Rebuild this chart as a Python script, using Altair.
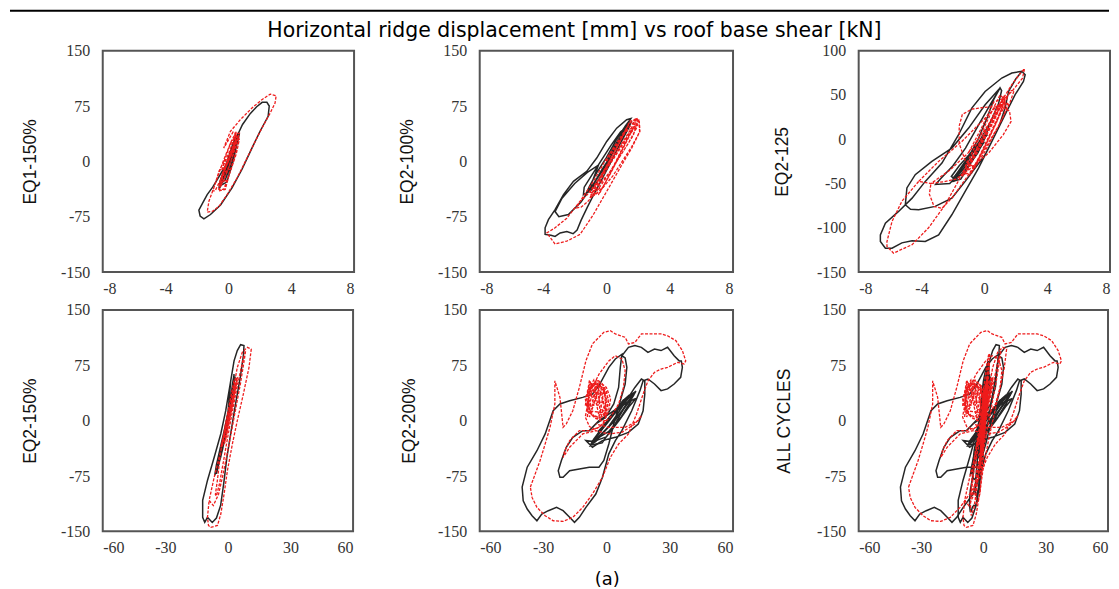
import altair as alt
import pandas as pd

TITLE = "Horizontal ridge displacement [mm] vs roof base shear [kN]"
CAPTION = "(a)"
PANEL_NAMES = ["EQ1-150%", "EQ2-100%", "EQ2-125", "EQ2-150%", "EQ2-200%", "ALL CYCLES"]
X_TICKS_SMALL = [-8, -4, 0, 4, 8]
X_TICKS_LARGE = [-60, -30, 0, 30, 60]
Y_TICKS = [-150, -75, 0, 75, 150]
Y_TICKS_125 = [-150, -100, -50, 0, 50, 100]

# ---- traced hysteresis paths: (displacement mm, base shear kN) ----
EQ1_150_TEST = [(0,0),(0.25,14),(0.5,27),(0.65,36),(0.6,30),(0.35,14),(0.05,-5),(-0.3,-22),(-0.5,-32),(-0.55,-36),(-0.4,-28),(-0.1,-10),(0.2,8),(0.5,25),(0.62,33),(0.5,22),(0.2,4),(-0.1,-15),(-0.4,-28),(-0.5,-32),(-0.35,-22),(-0.05,-3),(0.3,16),(0.55,30),(0.7,38),(0.65,33),(0.4,15),(0.1,-3),(-0.2,-18),(-0.45,-30),(-0.6,-36),(-0.5,-25),(-0.2,-8),(0.1,10),(0.5,32),(0.9,50),(1.4,65),(1.8,74),(2.15,80),(2.45,80),(2.6,75),(2.53,61),(2.3,52),(2.0,40),(1.5,18),(0.86,-11),(0.23,-36),(-0.5,-59),(-1.14,-72),(-1.56,-78),(-1.8,-74),(-1.88,-66),(-1.6,-55),(-1.35,-45),(-1.0,-35),(-0.72,-25),(-0.3,-10),(0,0)]
EQ1_150_TEST_CORE = [(-0.45,-32),(-0.1,-28),(0.3,0),(0.6,30),(0.65,36),(0.4,30),(0,5),(-0.35,-20),(-0.5,-30),(-0.2,-25),(0.2,-3),(0.5,20),(0.6,33),(0.3,25),(-0.05,0),(-0.4,-25)]
EQ1_150_MODEL = [(0,0),(0.3,15),(0.55,28),(0.68,36),(0.6,30),(0.3,10),(0,-10),(-0.35,-28),(-0.6,-38),(-0.55,-30),(-0.25,-12),(0.1,10),(0.45,28),(0.55,24),(0.25,6),(-0.1,-14),(-0.45,-32),(-0.55,-28),(-0.2,-8),(0.2,14),(0.45,30),(0.5,40),(0.2,28),(-0.3,2),(-0.75,-25),(-1.0,-40),(-0.85,-40),(-0.5,-25),(-0.1,-5),(0.3,20),(0.45,38),(0.3,40),(-0.1,25),(-0.3,18),(0.13,40.7),(0.76,56.5),(1.5,72.3),(2.13,83.6),(2.66,91),(3.04,89),(2.97,79),(2.66,65.5),(2.13,45),(1.6,22.6),(1.08,0),(0.55,-22.6),(-0.08,-45),(-0.6,-61),(-1.03,-67.8),(-1.35,-68.7),(-1.24,-54),(-0.93,-36),(-0.6,-13.5),(-0.3,0)]
EQ1_150_MODEL_CORE = [(-0.6,-40),(-0.2,-38),(0.15,-10),(-0.25,-15),(-0.55,-35),(-0.35,-20),(0.05,5),(0.45,25),(0.7,38),(0.45,38),(0.1,15),(-0.3,-5),(-0.45,-28),(-0.05,-25),(0.3,0),(0.6,20),(0.65,30),(0.3,20),(-0.1,0),(-0.5,-25),(-0.6,-38),(-0.3,-38),(0.1,-15),(0.5,10),(0.7,30),(0.5,35),(0.15,25),(-0.2,5),(-0.4,-10),(-0.1,-5),(0.3,15),(0.55,36)]

EQ2_100_TEST = [(0,0),(0.5,20),(1.0,38),(1.4,52),(1.5,57),(1.3,48),(0.8,28),(0.2,5),(-0.5,-20),(-1.0,-38),(-1.3,-45),(-1.1,-35),(-0.6,-15),(0,5),(0.6,28),(1.2,48),(1.45,55),(1.35,45),(0.9,25),(0.3,0),(-0.4,-22),(-1.0,-40),(-1.45,-45),(-1.4,-35),(-0.9,-18),(-0.3,2),(0.3,22),(0.9,40),(1.2,45),(0.9,30),(0.3,8),(-0.3,-12),(-0.8,-30),(-1.2,-42),(-0.9,-28),(-0.5,-5),(-1.2,-15),(-2.0,-30),(-2.8,-50),(-3.24,-68),(-3.0,-75),(-2.4,-72),(-1.6,-55),(-0.8,-30),(0,-5),(0.7,25),(1.3,50),(1.55,58),(1.28,56.5),(0.65,45),(0.02,27),(-0.61,4.5),(-1.24,-13.5),(-2.08,-27),(-2.71,-45),(-3.24,-65.5),(-3.66,-79),(-3.87,-90),(-3.87,-99),(-3.5,-100),(-3.24,-101.7),(-2.92,-97),(-2.5,-95),(-2.1,-98),(-1.85,-93),(-1.6,-80),(-1.2,-62),(-0.8,-45),(-0.3,-25),(0.3,0),(0.9,25),(1.4,45),(1.6,55)]
EQ2_100_MODEL = [(0,0),(0.6,20),(1.2,40),(1.8,55),(2.0,58),(1.9,45),(1.4,25),(0.8,5),(0.2,-15),(-0.4,-30),(-0.8,-42),(-0.6,-35),(-0.1,-15),(0.5,5),(1.1,25),(1.7,45),(2.05,55),(2.1,40),(1.6,20),(1.0,0),(0.4,-20),(-0.2,-35),(-0.7,-45),(-1.0,-48),(-0.8,-38),(-0.3,-20),(0.3,0),(0.9,20),(1.5,40),(1.9,50),(1.7,35),(1.1,15),(0.5,-5),(-0.1,-25),(-0.6,-40),(-1.2,-55),(-1.6,-62),(-1.87,-63),(-1.7,-55),(-1.2,-45),(-0.5,-25),(0.2,-2),(0.9,22),(1.5,42),(1.91,58.7),(1.49,52),(0.86,31.6),(0.02,4.5),(-0.82,-27),(-1.66,-54),(-2.5,-77),(-3.24,-90),(-3.76,-97),(-3.24,-112),(-2.5,-108),(-1.66,-99),(-0.82,-72),(0.02,-40.7),(0.86,-9),(1.6,18),(2.12,40.7),(2.08,54),(1.91,58.7)]
EQ2_100_MODEL_CORE = [(-1.0,-45),(-0.4,-42),(0.4,-10),(1.2,25),(1.9,55),(1.5,55),(0.7,20),(-0.2,-15),(-0.8,-40),(-0.2,-35),(0.6,0),(1.4,35),(2.0,50),(1.2,40),(0.3,5),(-0.5,-25),(-1.0,-42),(-0.5,-45),(0.3,-15),(1.0,15),(1.7,45)]

EQ2_125_TEST = [(0,0),(0.3,15),(0.1,5),(-0.4,-15),(-1.0,-30),(-1.6,-42),(-2.0,-48),(-1.8,-40),(-1.2,-28),(-0.6,-12),(-0.1,2),(0.2,8),(-0.2,-8),(-0.8,-22),(-1.4,-35),(-1.9,-45),(-2.1,-42),(-1.6,-30),(-1.0,-18),(-0.4,-5),(0.4,20),(0.9,40),(1.1,55),(1.0,58),(0.6,45),(0.2,25),(-0.4,0),(-1.0,-20),(-1.6,-38),(-2.2,-50),(-3.1,-51),(-2.8,-45),(-2.0,-30),(-1.2,-10),(-0.4,15),(0.4,40),(1.0,57.8),(0.05,39),(-1.0,12.6),(-2.07,-10),(-3.34,-25),(-4.4,-40),(-4.93,-55),(-5.03,-74),(-4.7,-79),(-4.18,-79.5),(-3.13,-75.8),(-2.07,-66.5),(-1.22,-47.6),(0.05,-17.5),(0.9,12.6),(1.32,35.2),(1.54,54),(2.0,68),(2.39,76.7),(2.6,72.9),(2.49,65.3),(1.96,50.3),(1.32,27.7),(0.48,-2.5),(-0.37,-32.6),(-1.22,-59),(-2.07,-85.3),(-2.91,-108),(-3.76,-115.5),(-4.6,-114.7),(-5.25,-117),(-5.88,-123),(-6.3,-123),(-6.62,-115.5),(-6.62,-108),(-6.3,-94.7),(-5.46,-81.5),(-4.6,-66.5),(-3.76,-47.6),(-2.7,-26.9),(-1.64,5.1),(-0.8,35.2),(0.05,54),(1.11,69.1),(1.75,74.8),(2.39,76.7)]
EQ2_125_TEST_CORE = [(-2.1,-48),(-1.5,-45),(-0.8,-25),(-0.1,0),(0.2,5),(-0.4,-5),(-1.2,-28),(-1.9,-42),(-1.3,-40),(-0.6,-18),(0,-3),(-0.7,-12),(-1.5,-32),(-2.0,-45)]
EQ2_125_MODEL = [(0,0),(0.5,20),(1.0,40),(1.3,50),(1.1,40),(0.6,20),(0,0),(-0.6,-20),(-1.2,-38),(-1.4,-42),(-1.0,-30),(-0.4,-10),(0.2,10),(0.8,30),(1.2,45),(1.0,35),(0.4,15),(-0.2,-5),(-0.8,-25),(-1.3,-40),(-1.0,-32),(-0.5,-15),(0.1,5),(0.7,25),(1.2,42),(1.5,40),(1.2,25),(0.6,5),(0,-15),(-0.6,-32),(-1.2,-25),(-1.6,-5),(-1.6,15),(-1.4,28),(-0.8,34),(0,36),(1.0,37),(1.6,32),(1.7,20),(1.2,5),(0.3,-15),(-0.8,-32),(-1.8,-45),(-2.6,-48),(-3.4,-50),(-3.5,-62),(-3.2,-76),(-2.7,-78),(-2.0,-65),(-1.0,-40),(0,-12),(0.9,15),(1.6,40),(1.9,55),(1.7,55),(1.0,35),(0,10),(-1.0,-15),(-2.2,-35),(-3.0,-45),(-3.4,-50),(-4.18,-47.6),(-5.25,-70),(-5.88,-93),(-6.2,-115.5),(-6.2,-121),(-5.78,-128.6),(-4.6,-119),(-3.55,-100),(-2.49,-74),(-1.43,-40),(-0.37,-6),(0.69,31.5),(1.75,61.6),(2.39,76.7),(2.56,79.7),(2.43,69),(1.75,54),(0.69,35.2),(-0.37,16.4),(-1.43,-2.5),(-2.91,-25),(-4.18,-47.6)]
EQ2_125_MODEL_CORE = [(-1.5,-40),(-0.8,-38),(0,-10),(0.8,20),(1.3,45),(1.0,50),(0.3,25),(-0.5,-5),(-1.2,-30),(-0.6,-30),(0.2,-2),(1.0,28),(1.4,40),(0.8,35),(0,5),(-0.8,-22),(-1.4,-38),(-0.9,-40),(-0.2,-15),(0.6,15),(1.2,38),(1.5,48),(0.6,42),(-0.2,12),(-1.0,-15)]

EQ2_150_TEST = [(0,0),(1,25),(2.5,55),(3,63),(2.3,45),(0.5,10),(-1.5,-25),(-3.5,-50),(-5.5,-68),(-6.3,-74),(-5.5,-60),(-3.5,-35),(-1.5,-10),(0.5,18),(2,40),(1.2,25),(-0.5,-5),(-2.5,-30),(-4.5,-55),(-5.8,-70),(-5,-55),(-3,-30),(-1,-5),(1,20),(2.5,45),(3.5,60),(3,50),(1.5,25),(-0.5,-8),(-2.5,-38),(-4.5,-60),(-5.5,-72),(-4.5,-55),(-2,-20),(0,10),(1.35,54),(2.95,81),(4.5,95),(6.1,103),(7.7,101.7),(7.5,90),(6,60),(3.5,20),(1.5,-15),(-0.5,-50),(-2,-85),(-3.5,-115),(-5.5,-132),(-7.5,-138),(-9.8,-131),(-11.1,-137.8),(-12.1,-131),(-12.1,-126.5),(-12.1,-108),(-9.8,-81),(-6.6,-50),(-3.43,-18),(-1.04,13.5),(1.35,54)]
EQ2_150_MODEL = [(0,0),(1.5,25),(3,45),(4,55),(4.5,58.7),(3.5,45),(1.5,15),(-0.5,-15),(-2.5,-30),(-3.4,-36),(-2.5,-25),(-0.5,0),(1.5,25),(3,40),(3.5,48),(2.5,30),(0.5,5),(-1.5,-18),(-3,-32),(-2,-20),(0,5),(2,30),(3.8,50),(4.5,55),(3,35),(1,10),(-1,-12),(-2.8,-30),(-4,-55),(-5,-80),(-6,-100),(-5.5,-102),(-4,-85),(-1.5,-45),(1,-5),(4,40),(7,80),(8.5,95),(8,85),(6,50),(3,5),(0,-40),(-2.5,-75),(-4.5,-100),(-7,-115),(-9.0,-108),(-6.6,-77),(-3.4,-40.7),(-0.24,0),(2.15,36),(4.5,72),(6.9,92.6),(9.3,99.4),(11.2,97),(10.1,72),(7.4,36),(4.5,0),(2.15,-31.6),(-0.24,-67.8),(-1.83,-99.4),(-3.4,-126.5),(-5,-142),(-8.2,-144.6),(-9.3,-142),(-9.8,-131),(-9.0,-108)]
EQ2_150_MODEL_CORE = [(-3.4,-36),(-1.5,-30),(1,5),(3,35),(4.5,58),(3,55),(0.5,20),(-1.5,-10),(-3,-35),(-1,-25),(1.5,10),(3.5,40),(4,50),(2,40),(0,10),(-2,-20)]

EQ2_200_TEST = [(0,0),(3,10),(6,20),(9,30),(11,35),(9,25),(5,8),(1,-8),(-3,-20),(-6,-30),(-8,-35),(-6,-25),(-2,-10),(2,5),(6,18),(10,30),(13,38),(11,28),(7,12),(3,-3),(-1,-15),(-5,-28),(-7,-32),(-4,-18),(0,-5),(4,10),(8,22),(12,35),(14,40),(12,30),(8,15),(4,0),(0,-12),(-4,-22),(-7,-28),(-9.7,-27),(-6.6,-36),(-1.9,-27),(4.25,-22.6),(10.45,-15.8),(15.1,-4.5),(17.4,13.5),(18.2,36),(18.2,54),(16.6,56.5),(13.5,45),(10.45,31.6),(5.8,18),(1.16,9),(-3.5,0),(-8.1,-13.5),(-11.2,-13.5),(-15.9,-22.6),(-19,-36),(-21.3,-54),(-22.8,-67.8),(-22,-76.8),(-20.5,-76.8),(-17.4,-67.8),(-12.8,-65.5),(-8.1,-63),(-3.5,-63),(-1.2,-54),(1.16,-31.6),(3.5,-4.5),(6.6,27),(8.9,49.7),(9.7,72.3),(8.9,85),(7.35,88),(10.45,99.4),(13.5,101.7),(16.6,99.4),(19.7,92.6),(22.8,97),(25.9,95),(29,99.4),(32.1,88),(34.5,81),(35.5,81),(36,72.3),(35.2,58.7),(32.1,49.7),(29,43),(25.9,40.7),(22.8,49.7),(19.7,56.5),(17.4,54),(15.9,40.7),(12,13.5),(7.35,-13.5),(4.25,-27),(1.16,-45),(-1.9,-77),(-5,-99.4),(-9.7,-117.5),(-12.8,-131),(-15.1,-137.8),(-17.4,-131),(-20.5,-122),(-23.6,-117.5),(-27.5,-122),(-30.6,-126.5),(-32.9,-135.6),(-35.2,-128.8),(-37.5,-119.7),(-39.4,-108.5),(-39.9,-90),(-37.5,-63),(-32.9,-40.7),(-29,-18),(-25.2,13.5),(-22,22.6),(-17.4,27),(-11.2,31.6),(-6.6,36),(-3.5,47.4),(1.16,72.3),(4.25,83.6),(7.35,90),(6.6,72.3),(5.8,45),(3.5,22.6),(-0.4,4.5),(-5,-4.5)]
EQ2_200_TEST_CORE = [(-7,-33),(-2,-30),(4,-5),(10,25),(13,35),(8,28),(2,5),(-4,-20),(-6,-28),(0,-22),(6,0),(11,20),(14,30),(9,24),(3,8),(-3,-12),(-5,-25),(1,-15),(7,5),(12,28),(6,18),(0,-2),(-4,-15)]
EQ2_200_MODEL_INNER = [(0,0),(-3,0),(-6,5),(-9,15),(-10,30),(-8,45),(-5,50),(-2,45),(0,30),(-1,15),(-4,5),(-7,8),(-9,25),(-7,40),(-4,48),(-1,40),(1,30),(0,15),(-2,5),(-5,3),(-8,15),(-9,35),(-6,48),(-3,52),(0,45),(2,30),(1,12),(-2,-5),(-5,-12),(-8,-8),(-10,5),(-9,20),(-8,40),(-6,52),(-4,55),(-2,50),(0,40),(1,25),(0,10),(-8.1,13.5),(-6.6,45),(-3.5,63),(1.16,81),(4.25,88),(7.35,83.6),(8.9,67.8),(8.1,45),(5.8,22.6),(1.9,4.5),(-3.5,-9),(-8.1,-13.5),(-12.8,-13.5),(-17.4,-27),(-19.7,-40.7),(-20.5,-49.7),(-17.4,-36),(-11.2,-18),(-5,-13.5),(1.16,-18),(7.35,-15.8),(13.5,-4.5),(16.6,6.8),(15.1,0),(8.9,-9),(1.16,-9),(-5,-4.5)]
EQ2_200_MODEL_CORE = [(-9,5),(-8,50),(-6,20),(-4,55),(-3,10),(-1,45),(0,5),(-2,30),(-5,52),(-7,15),(-9,40),(-6,55),(-4,20),(-2,50),(0,25),(-1,5),(-4,35),(-7,50),(-9,25),(-8,5),(-5,30),(-3,50),(-1,20),(-3,0),(-6,40),(-8,55),(-10,20)]
EQ2_200_MODEL_OUTER = [(-36,-90),(-33.7,-72),(-31.4,-54),(-29,-31.6),(-26.7,-9),(-24.4,22.6),(-24.4,54),(-22,31.6),(-20.5,-9),(-19,-4.5),(-15.9,13.5),(-12.8,45),(-9.7,81),(-6.6,104),(-3.5,113),(-1.2,119.7),(1.9,122),(4.25,117.5),(8.9,113),(10.45,104),(13.5,106),(16.6,117.5),(21.3,117.5),(25.9,117.5),(29,115),(32.9,108.5),(36,95),(37.6,81),(36.8,76.8),(33.7,79),(29,72.3),(25.9,70),(22.8,65.5),(19.7,54),(17.4,36),(14.3,9),(10.45,-18),(5.8,-31.6),(1.9,-49.7),(-1.9,-77),(-6.6,-99.4),(-11.2,-117.5),(-15.9,-131),(-20.5,-136.5),(-25.2,-135.6),(-29,-128.8),(-32.9,-117.5),(-35.2,-104),(-36,-90)]

BLACK = "#262626"
RED = "#ee1c1c"
LABEL_FONT = "Liberation Serif"
TITLE_FONT = "Liberation Sans"
WIDE_FONT = "DejaVu Sans"


def runs_frame(runs, tag):
    rows = []
    for k, run in enumerate(runs):
        for i, (x, y) in enumerate(run):
            rows.append({"x": x, "y": y, "i": i, "run": f"{tag}{k}"})
    return pd.DataFrame(rows)


def make_panel(black_runs, red_runs, xdom, xticks, ydom, yticks, name, title_x, w, h, extra=()):
    xs = alt.Scale(domain=xdom, nice=False, zero=False)
    ys = alt.Scale(domain=ydom, nice=False, zero=False)
    xa = alt.Axis(values=xticks, title=None, labelExpr="'' + datum.value", grid=False,
                  ticks=False, domain=False, labelFont=LABEL_FONT, labelFontSize=16,
                  labelColor="#333333", labelPadding=8)
    ya = alt.Axis(values=yticks, title=name, titleX=title_x, titleY=h / 2, titleAngle=270,
                  titleAlign="center", titleBaseline="middle", titleFont=TITLE_FONT,
                  titleFontSize=17.5, titleFontWeight="normal", titleColor="#111111",
                  labelExpr="'' + datum.value", grid=False, ticks=False, domain=False,
                  labelFont=LABEL_FONT, labelFontSize=16, labelColor="#333333", labelPadding=13)
    enc = dict(x=alt.X("x:Q", scale=xs, axis=xa), y=alt.Y("y:Q", scale=ys, axis=ya),
               order="i:Q", detail="run:N")
    black = alt.Chart(runs_frame(black_runs, "b")).mark_line(
        color=BLACK, strokeWidth=1.5, clip=True).encode(**enc)
    red = alt.Chart(runs_frame(red_runs, "r")).mark_line(
        color=RED, strokeWidth=1.3, strokeDash=[3, 1.5], clip=True).encode(**enc)
    return alt.layer(black, red, *extra).properties(width=w, height=h)


one = pd.DataFrame({"t": [TITLE], "c": [CAPTION]})
top_rule = alt.Chart(one).mark_rule(color="black", strokeWidth=2).encode(
    x=alt.value(-93), x2=alt.value(1009), y=alt.value(-40))
title_txt = alt.Chart(one).mark_text(font=WIDE_FONT, fontSize=20.5, align="center",
                                     baseline="middle", color="black").encode(
    x=alt.value(473), y=alt.value(-19.5), text="t:N")
caption_txt = alt.Chart(one).mark_text(font=WIDE_FONT, fontSize=18, align="center",
                                       baseline="middle", color="black").encode(
    x=alt.value(506), y=alt.value(531), text="c:N")

T1 = [EQ1_150_TEST, EQ1_150_TEST_CORE]
M1 = [EQ1_150_MODEL, EQ1_150_MODEL_CORE]
T2 = [EQ2_100_TEST]
M2 = [EQ2_100_MODEL, EQ2_100_MODEL_CORE]
T3 = [EQ2_125_TEST, EQ2_125_TEST_CORE]
M3 = [EQ2_125_MODEL, EQ2_125_MODEL_CORE]
T4 = [EQ2_150_TEST]
M4 = [EQ2_150_MODEL, EQ2_150_MODEL_CORE]
T5 = [EQ2_200_TEST, EQ2_200_TEST_CORE]
M5 = [EQ2_200_MODEL_INNER, EQ2_200_MODEL_CORE, EQ2_200_MODEL_OUTER]

p1 = make_panel(T1, M1, [-8, 8], X_TICKS_SMALL, [-150, 150], Y_TICKS,
                PANEL_NAMES[0], -72, 252, 222, extra=(top_rule, title_txt, caption_txt))
p2 = make_panel(T2, M2, [-8, 8], X_TICKS_SMALL, [-150, 150], Y_TICKS,
                PANEL_NAMES[1], -72, 254, 222)
p3 = make_panel(T3, M3, [-8, 8], X_TICKS_SMALL, [-150, 100], Y_TICKS_125,
                PANEL_NAMES[2], -76, 252, 222)
p4 = make_panel(T4, M4, [-60, 60], X_TICKS_LARGE, [-150, 150], Y_TICKS,
                PANEL_NAMES[3], -72, 251, 222)
p5 = make_panel(T5, M5, [-60, 60], X_TICKS_LARGE, [-150, 150], Y_TICKS,
                PANEL_NAMES[4], -70, 254, 222)
p6 = make_panel(T1 + T2 + T3 + T4 + T5, M1 + M2 + M3 + M4 + M5, [-60, 60], X_TICKS_LARGE,
                [-150, 150], Y_TICKS, PANEL_NAMES[5], -74, 250, 222)

chart = alt.concat(p1, p2, p3, p4, p5, p6, columns=3, bounds="flush",
                   spacing={"row": 38, "column": 126}).properties(
    padding={"left": 0, "top": 0, "right": 0, "bottom": 0}
).configure_view(stroke="#555555", strokeWidth=2)

chart.save("out.html", embed_options={"renderer": "svg", "actions": False})
